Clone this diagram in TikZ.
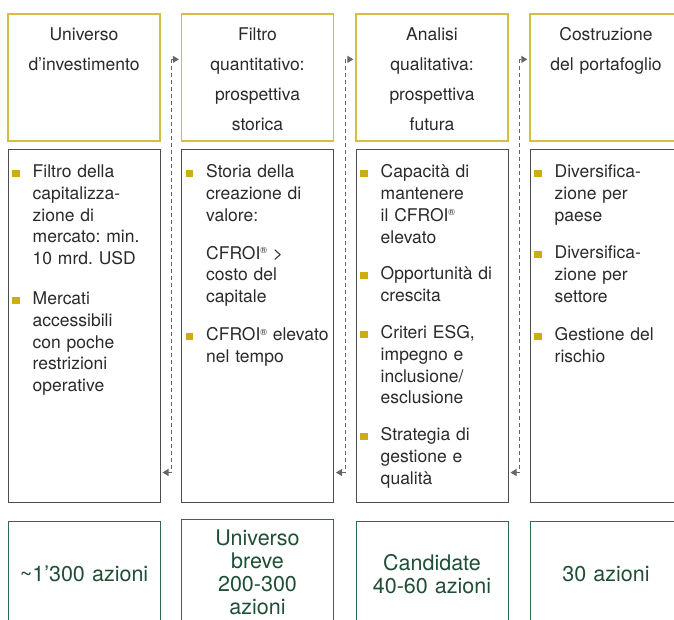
\documentclass[tikz,border=0pt]{standalone}
\usepackage{fontspec}
\setmainfont{TeX Gyre Heros}
\usepackage{xcolor}
\usetikzlibrary{arrows.meta}
\usetikzlibrary{positioning}
\definecolor{headgold}{HTML}{D6BF3F}
\definecolor{bulletgold}{HTML}{CCAD14}
\definecolor{listgray}{HTML}{4D4D4D}
\definecolor{textgray}{HTML}{2A2A2A}
\definecolor{endgreen}{HTML}{2F6B4B}
\definecolor{endtext}{HTML}{1F4E35}
\definecolor{linkgray}{HTML}{666666}
\newcommand{\bul}{\leavevmode\llap{\textcolor{bulletgold}{\rule[0.5pt]{7.5pt}{7pt}}\hspace{13pt}}}
\newcommand{\cfroi}{CFROI\raisebox{5.5pt}{\fontsize{9pt}{9pt}\selectfont\textregistered}}
\tikzset{headbox/.style={draw=headgold,line width=1.3pt,minimum width=152pt,minimum height=127pt,inner sep=0pt},
         headtext/.style={text=textgray,text width=150pt,align=center,inner sep=0pt,font=\fontsize{17.5pt}{30pt}\selectfont\frenchspacing},
         listbox/.style={draw=listgray,line width=1pt,minimum width=152pt,minimum height=353pt,inner sep=0pt},
         listtext/.style={text=textgray,text width=130pt,align=left,inner sep=0pt,font=\fontsize{17.5pt}{21.8pt}\selectfont\frenchspacing},
         endbox/.style={draw=endgreen,line width=1pt,minimum width=152pt,minimum height=106pt,text width=148pt,align=center,inner sep=0pt,text=endtext,font=\fontsize{21.5pt}{23pt}\selectfont},
         link/.style={draw=linkgray,line width=0.9pt,dash pattern=on 4pt off 3pt,{Triangle[length=6pt,width=7pt]}-{Triangle[length=6pt,width=7pt]}}}

\begin{document}
\begin{tikzpicture}[x=1pt,y=-1pt]
\useasboundingbox (0,0) rectangle (674,619);
\clip (0,0) rectangle (674,619);
\node[headbox] (h1) at (84,77.5) {};
\node[headbox] (h2) at (257.5,77.5) {};
\node[headbox] (h3) at (432,77.5) {};
\node[headbox] (h4) at (606,77.5) {};
\node[headtext,below=14pt of h1.north] (h1t) {Universo\\d’investimento};
\node[headtext,below=14pt of h2.north] (h2t) {Filtro\\quantitativo:\\prospettiva\\storica};
\node[headtext,below=14pt of h3.north] (h3t) {Analisi\\qualitativa:\\prospettiva\\futura};
\node[headtext,below=14pt of h4.north] (h4t) {Costruzione\\del portafoglio};
\node[listbox] (m1) at (84,325.5) {};
\node[listbox] (m2) at (257.5,325.5) {};
\node[listbox] (m3) at (432,325.5) {};
\node[listbox] (m4) at (606,325.5) {};
\node[listtext,anchor=north west] (m1t) at ([xshift=25pt,yshift=-16pt]m1.north west)
  {\bul Filtro della\\capitalizza-\\zione di\\mercato: min.\\10 mrd. USD\\[18pt]
   \bul Mercati\\accessibili\\con poche\\restrizioni\\operative};
\node[listtext,anchor=north west] (m2t) at ([xshift=25pt,yshift=-16pt]m2.north west)
  {\bul Storia della\\creazione di\\valore:\\[16pt]
   \cfroi{} >\\costo del\\capitale\\[16pt]
   \bul \cfroi{} elevato\\nel tempo};
\node[listtext,anchor=north west] (m3t) at ([xshift=25pt,yshift=-16pt]m3.north west)
  {\bul Capacità di\\mantenere\\il \cfroi\\elevato\\[15pt]
   \bul Opportunità di\\crescita\\[15pt]
   \bul Criteri ESG,\\impegno e\\inclusione/\\esclusione\\[15pt]
   \bul Strategia di\\gestione e\\qualità};
\node[listtext,anchor=north west] (m4t) at ([xshift=25pt,yshift=-16pt]m4.north west)
  {\bul Diversifica-\\zione per\\paese\\[16pt]
   \bul Diversifica-\\zione per\\settore\\[16pt]
   \bul Gestione del\\rischio};
\node[endbox] (b1) at (84,574) {\textasciitilde1’300 azioni};
\node[endbox] (b2) at (257.5,572) {Universo\\breve\\200-300\\azioni};
\node[endbox] (b3) at (432,574) {Candidate\\40-60 azioni};
\node[endbox] (b4) at (606,574) {30 azioni};
\draw[link] ([xshift=2pt,yshift=30pt]m1.south east) -| ([xshift=11pt,yshift=-46pt]h1.north east) -- ([xshift=-2pt,yshift=-46pt]h2.north west);
\draw[link] ([xshift=2pt,yshift=30pt]m2.south east) -| ([xshift=11.5pt,yshift=-46pt]h2.north east) -- ([xshift=-2pt,yshift=-46pt]h3.north west);
\draw[link] ([xshift=2pt,yshift=30pt]m3.south east) -| ([xshift=11pt,yshift=-46pt]h3.north east) -- ([xshift=-2pt,yshift=-46pt]h4.north west);
\end{tikzpicture}
\end{document}
